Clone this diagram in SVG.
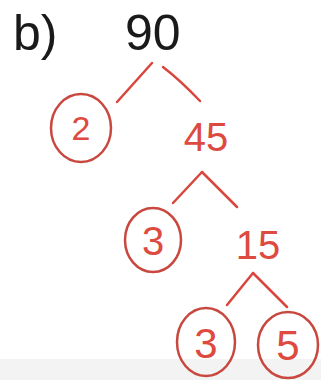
<svg xmlns="http://www.w3.org/2000/svg" width="321" height="380" viewBox="0 0 321 380">
<style>
.blk{font-family:"Liberation Sans","DejaVu Sans",sans-serif;fill:#1a1a1a;font-size:50px}
.red{font-family:"Liberation Sans","DejaVu Sans",sans-serif;fill:#dd4a40;text-anchor:middle}
.ring{fill:none;stroke:#c8483f;stroke-width:2.5}
.edge{fill:none;stroke:#d9463e;stroke-width:2.5;stroke-linecap:round}
</style>
<rect width="321" height="380" fill="#ffffff"/>
<rect x="0" y="359" width="321" height="21" fill="#f3f3f3"/>
<g id="label"><text class="blk" x="13" y="50">b)</text></g>
<g id="n90"><text class="blk" x="125" y="50">90</text></g>
<g id="n2"><ellipse class="ring" cx="81" cy="128" rx="30" ry="34"/><text class="red" x="81" y="140" font-size="34">2</text></g>
<g id="n45"><text class="red" x="206" y="151" font-size="40">45</text></g>
<g id="n3a"><ellipse class="ring" cx="153" cy="240" rx="28" ry="32"/><text class="red" x="153" y="255" font-size="40">3</text></g>
<g id="n15"><text class="red" x="258" y="259" font-size="40">15</text></g>
<g id="n3b"><ellipse class="ring" cx="206" cy="342" rx="29" ry="34"/><text class="red" x="206" y="358" font-size="42">3</text></g>
<g id="n5"><ellipse class="ring" cx="288" cy="345" rx="30" ry="33"/><text class="red" x="288" y="360" font-size="42">5</text></g>
<g id="connectors">
<path class="edge" d="M152 63 L117 102"/>
<path class="edge" d="M163 67 Q180 80 200 101"/>
<path class="edge" d="M202 172 L173 203"/>
<path class="edge" d="M202 172 L237 207"/>
<path class="edge" d="M253 273 L227 305"/>
<path class="edge" d="M253 273 L287 307"/>
</g>
</svg>
